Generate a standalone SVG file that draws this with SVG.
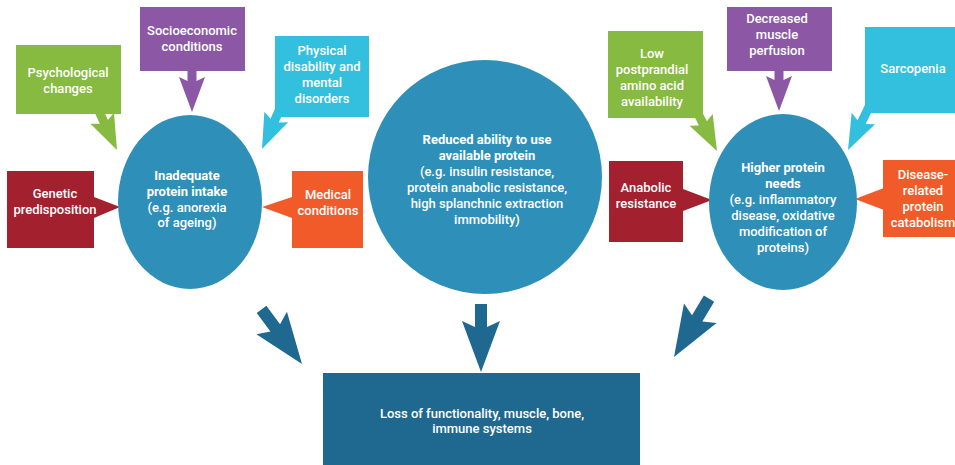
<svg xmlns="http://www.w3.org/2000/svg" xmlns:xlink="http://www.w3.org/1999/xlink" width="955" height="465" viewBox="0 0 955 465">
<style>
text{font-family:Roboto,"Liberation Sans",sans-serif;font-size:13px;font-weight:500;fill:#fff;text-anchor:middle}
.b{font-weight:700}
.green{fill:#86BA40}.purple{fill:#8C58A5}.cyan{fill:#33BFDE}.red{fill:#A3212F}.orange{fill:#F15A29}
.circ{fill:#2E8FB8}.dark{fill:#1F6890}
</style>
<defs>
<polygon id="arrS" points="-4.5,-50 4.5,-50 4.5,-31 13,-35 0,0 -13,-35 -4.5,-31"/>
<polygon id="arrL" points="-6,-68 6,-68 6,-45 19,-51 0,0 -19,-51 -6,-45"/>
</defs>
<rect width="955" height="465" fill="#fff"/>
<g id="connectors">
<use xlink:href="#arrS" class="green" transform="translate(117,150) rotate(-25)"/>
<use xlink:href="#arrS" class="purple" transform="translate(192,112)"/>
<use xlink:href="#arrS" class="cyan" transform="translate(262,149) rotate(24)"/>
<polygon class="red" points="94,197 120,207 94,218"/>
<polygon class="orange" points="292,197 262,207 292,218"/>
<use xlink:href="#arrS" class="green" transform="translate(717,151) rotate(-27)"/>
<use xlink:href="#arrS" class="purple" transform="translate(779,111)"/>
<use xlink:href="#arrS" class="cyan" transform="translate(848,150) rotate(26)"/>
<polygon class="red" points="683,189 712,200 683,211"/>
<polygon class="orange" points="884,188 855,199 884,210"/>
<use xlink:href="#arrL" class="dark" transform="translate(302,364) rotate(-36.5)"/>
<use xlink:href="#arrL" class="dark" transform="translate(481,372)"/>
<use xlink:href="#arrL" class="dark" transform="translate(674,357) rotate(31)"/>
</g>
<g id="psychological">
<rect class="green" x="16" y="45" width="105" height="69"/>
<text x="68" y="77">Psychological</text><text x="68" y="93">changes</text>
</g>
<g id="socioeconomic">
<rect class="purple" x="140" y="7" width="105" height="64"/>
<text x="192" y="35">Socioeconomic</text><text x="192" y="51">conditions</text>
</g>
<g id="physical">
<rect class="cyan" x="275" y="36" width="94" height="81"/>
<text x="322" y="55">Physical</text><text x="322" y="71">disability and</text><text x="322" y="87">mental</text><text x="322" y="103">disorders</text>
</g>
<g id="genetic">
<rect class="red" x="7" y="171" width="87" height="77"/>
<text x="55" y="198">Genetic</text><text x="55" y="214">predisposition</text>
</g>
<g id="medical">
<rect class="orange" x="292" y="171" width="71" height="77"/>
<text x="328" y="199">Medical</text><text x="328" y="215">conditions</text>
</g>
<g id="inadequate">
<ellipse class="circ" cx="190" cy="202" rx="72" ry="87"/>
<text class="b" x="187" y="180">Inadequate</text><text class="b" x="187" y="196">protein intake</text><text x="187" y="212">(e.g. anorexia</text><text x="187" y="227">of ageing)</text>
</g>
<g id="reduced">
<circle class="circ" cx="485" cy="177" r="117"/>
<text class="b" x="487" y="144">Reduced ability to use</text><text class="b" x="487" y="160">available protein</text><text x="487" y="176">(e.g. insulin resistance,</text><text x="487" y="192">protein anabolic resistance,</text><text x="487" y="208">high splanchnic extraction</text><text x="487" y="224">immobility)</text>
</g>
<g id="lowpostprandial">
<rect class="green" x="608" y="31" width="95" height="87"/>
<text x="652" y="58">Low</text><text x="652" y="74">postprandial</text><text x="652" y="90">amino acid</text><text x="652" y="106">availability</text>
</g>
<g id="decreased">
<rect class="purple" x="727" y="7" width="105" height="64"/>
<text x="777" y="23">Decreased</text><text x="777" y="39">muscle</text><text x="777" y="55">perfusion</text>
</g>
<g id="sarcopenia">
<rect class="cyan" x="865" y="27" width="90" height="86"/>
<text x="913" y="73">Sarcopenia</text>
</g>
<g id="anabolic">
<rect class="red" x="609" y="161" width="74" height="81"/>
<text x="646" y="192">Anabolic</text><text x="646" y="208">resistance</text>
</g>
<g id="disease">
<rect class="orange" x="883" y="160" width="72" height="77"/>
<text x="923" y="179">Disease-</text><text x="923" y="195">related</text><text x="923" y="211">protein</text><text x="923" y="227">catabolism</text>
</g>
<g id="higher">
<ellipse class="circ" cx="783" cy="202" rx="74" ry="88"/>
<text class="b" x="783" y="172">Higher protein</text><text class="b" x="783" y="188">needs</text><text x="783" y="204">(e.g. inflammatory</text><text x="783" y="220">disease, oxidative</text><text x="783" y="236">modification of</text><text x="783" y="252">proteins)</text>
</g>
<g id="loss">
<rect class="dark" x="323" y="373" width="317" height="92"/>
<text x="482" y="418">Loss of functionality, muscle, bone,</text><text x="482" y="433">immune systems</text>
</g>
</svg>
